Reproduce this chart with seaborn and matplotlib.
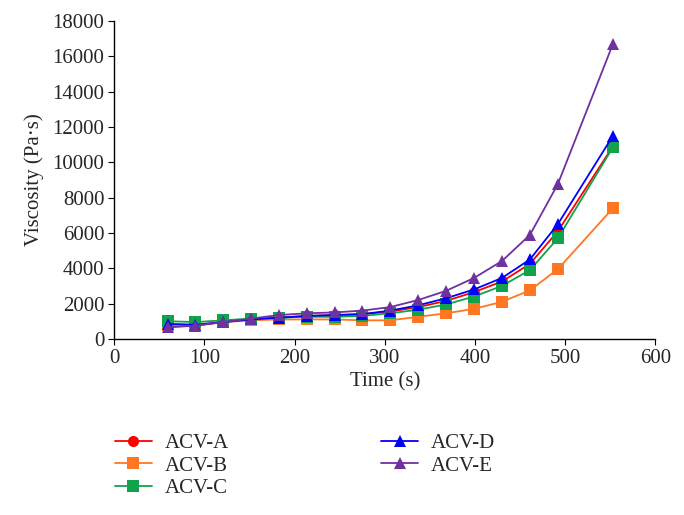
import numpy as np
import pandas as pd
import matplotlib
matplotlib.use("Agg")
import matplotlib.pyplot as plt
import seaborn as sns

# Data
time_s = [60, 90, 121, 152, 183, 214, 245, 275, 306, 337, 368, 399, 430, 461, 492, 553]
acv_a = [700, 750, 950, 1100, 1200, 1300, 1350, 1400, 1550, 1800, 2150, 2650, 3250, 4250, 6100, 10900]
acv_b = [800, 800, 950, 1050, 1100, 1100, 1100, 1050, 1050, 1250, 1450, 1700, 2100, 2750, 3950, 7400]
acv_c = [1000, 950, 1050, 1150, 1200, 1250, 1250, 1300, 1450, 1650, 1950, 2400, 3000, 3900, 5700, 10850]
acv_d = [850, 800, 950, 1100, 1200, 1300, 1350, 1400, 1600, 1900, 2300, 2800, 3450, 4500, 6500, 11500]
acv_e = [650, 750, 950, 1150, 1350, 1450, 1500, 1600, 1800, 2200, 2720, 3450, 4410, 5890, 8770, 16700]

series = ["ACV-A", "ACV-B", "ACV-C", "ACV-D", "ACV-E"]
values = [acv_a, acv_b, acv_c, acv_d, acv_e]
colors = ["#ff0000", "#ff7722", "#12a24c", "#0000ff", "#7030a0"]
markers = ["o", "s", "s", "^", "^"]

df = pd.concat([pd.DataFrame({"Time": time_s, "Viscosity": v, "Sample": s})
                for s, v in zip(series, values)])

sns.set_style("ticks")
plt.rcParams["font.family"] = ["Liberation Serif", "DejaVu Serif"]

fig = plt.figure(figsize=(6.84, 5.15), dpi=100)
ax = fig.add_axes([0.167, 0.342, 0.791, 0.617])
sns.lineplot(data=df, x="Time", y="Viscosity", hue="Sample", style="Sample",
             palette=dict(zip(series, colors)), markers=dict(zip(series, markers)),
             dashes=False, markersize=8, markeredgewidth=0, linewidth=1.3, ax=ax, legend=True)

ax.set_xlim(0, 600)
ax.set_ylim(0, 18000)
ax.set_xticks(range(0, 601, 100))
ax.set_yticks(range(0, 18001, 2000))
ax.tick_params(labelsize=15, direction="out", length=4, color="black", pad=3)
ax.set_xlabel("Time (s)", fontsize=15, labelpad=3)
ax.set_ylabel("Viscosity (Pa\u00b7s)", fontsize=15, labelpad=6)
sns.despine(ax=ax)
for sp in ["left", "bottom"]:
    ax.spines[sp].set_color("black")
    ax.spines[sp].set_linewidth(1)

handles, labels = ax.get_legend_handles_labels()
ax.get_legend().remove()
fig.legend(handles, labels, loc="upper left", bbox_to_anchor=(0.14, 0.195), ncol=2,
           frameon=False, fontsize=15, columnspacing=7.3, handlelength=1.8,
           handletextpad=0.6, labelspacing=0.15)

fig.savefig("out.png", dpi=100)
